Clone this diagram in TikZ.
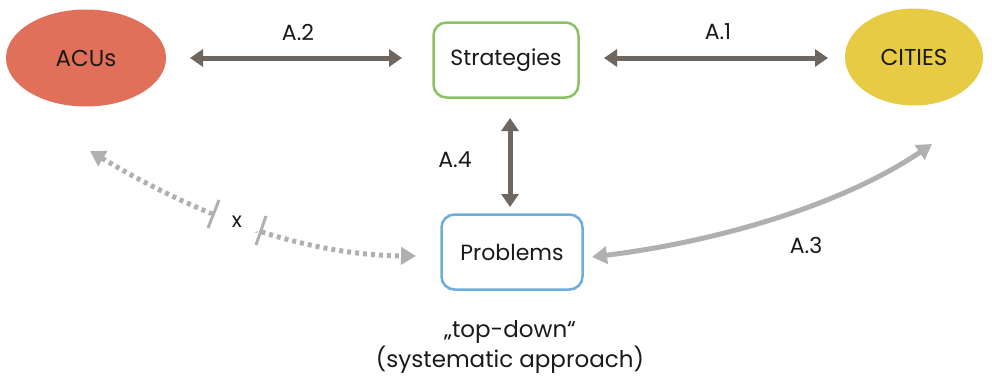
\documentclass[tikz,border=0pt]{standalone}
\usepackage{fontspec}
\setmainfont{Poppins}
\usetikzlibrary{arrows.meta,shapes.geometric}
\definecolor{acured}{HTML}{E1705A}
\definecolor{cityyel}{HTML}{E8CB45}
\definecolor{stratgreen}{HTML}{8CC265}
\definecolor{probblue}{HTML}{6CAEDB}
\definecolor{darkarr}{HTML}{6E6661}
\definecolor{lightarr}{HTML}{B0B0B0}
\definecolor{txt}{HTML}{1A1A1A}
\tikzset{
  blob/.style={ellipse, minimum width=160pt, minimum height=97pt, inner sep=0pt, font=\fontsize{23}{26}\selectfont, text=txt},
  boxnode/.style={draw, line width=2.5pt, rounded corners=13pt, minimum width=145pt, minimum height=75pt, font=\fontsize{22}{26}\selectfont, text=txt},
  lbl/.style={font=\fontsize{22}{26}\selectfont, text=txt},
  darkline/.style={draw=darkarr, line width=5pt, {Triangle[width=17pt,length=13pt]}-{Triangle[width=17pt,length=13pt]}},
  lightline/.style={draw=lightarr, line width=5pt, {Triangle[width=17pt,length=15pt]}-{Triangle[width=17pt,length=15pt]}},
  dotline/.style={draw=lightarr, line width=5pt, dash pattern=on 4pt off 4pt, {Triangle[width=17pt,length=15pt]}-{Triangle[width=17pt,length=15pt]}},
  tick/.style={draw=lightarr, line width=3pt},
}
\begin{document}
\begin{tikzpicture}[x=1pt,y=-1pt]
\useasboundingbox[fill=white] (0,0) rectangle (992,380);
\node[blob, fill=acured] (acu) at (86,58) {ACUs};
\node[blob, fill=cityyel, minimum width=138pt] (city) at (914,57) {CITIES};
\node[boxnode, draw=stratgreen] (strat) at (506,60) {Strategies};
\node[boxnode, draw=probblue, minimum width=141pt] (prob) at (512,252) {Problems};
% straight arrows
\coordinate (a2l) at (190,58); \coordinate (a2r) at (402,58);
\draw[darkline] (a2l) -- (a2r);
\node[lbl] (la2) at (298,32) {A.2};
\coordinate (a1l) at (604,58); \coordinate (a1r) at (828,58);
\draw[darkline] (a1l) -- (a1r);
\node[lbl] (la1) at (718,32) {A.1};
\coordinate (a4t) at (510,118); \coordinate (a4b) at (510,207);
\draw[darkline] (a4t) -- (a4b);
\node[lbl] (la4) at (455,160) {A.4};
% A.3 curve
\coordinate (a3l) at (592,257); \coordinate (a3r) at (932,144);
\draw[lightline] (a3l) .. controls (730,240) and (850,200) .. (a3r);
\node[lbl] (la3) at (806,245) {A.3};
% dotted curve
\coordinate (dl) at (90,151); \coordinate (dr) at (416,256);
\draw[dotline] (dl) .. controls (180,205) and (290,255) .. (dr);
\fill[white, rotate around={22:(237,222)}] (213,206) rectangle (261,238);
\draw[tick] (219,200) -- (208,228);
\draw[tick] (266,216) -- (256,245);
\node[font=\fontsize{21}{24}\selectfont, text=txt] (xx) at (237,222) {x};
% bottom text
\node[font=\fontsize{23}{30}\selectfont, text=txt, align=center] (note) at (510,347) {„top-down“\\(systematic approach)};
\end{tikzpicture}
\end{document}
